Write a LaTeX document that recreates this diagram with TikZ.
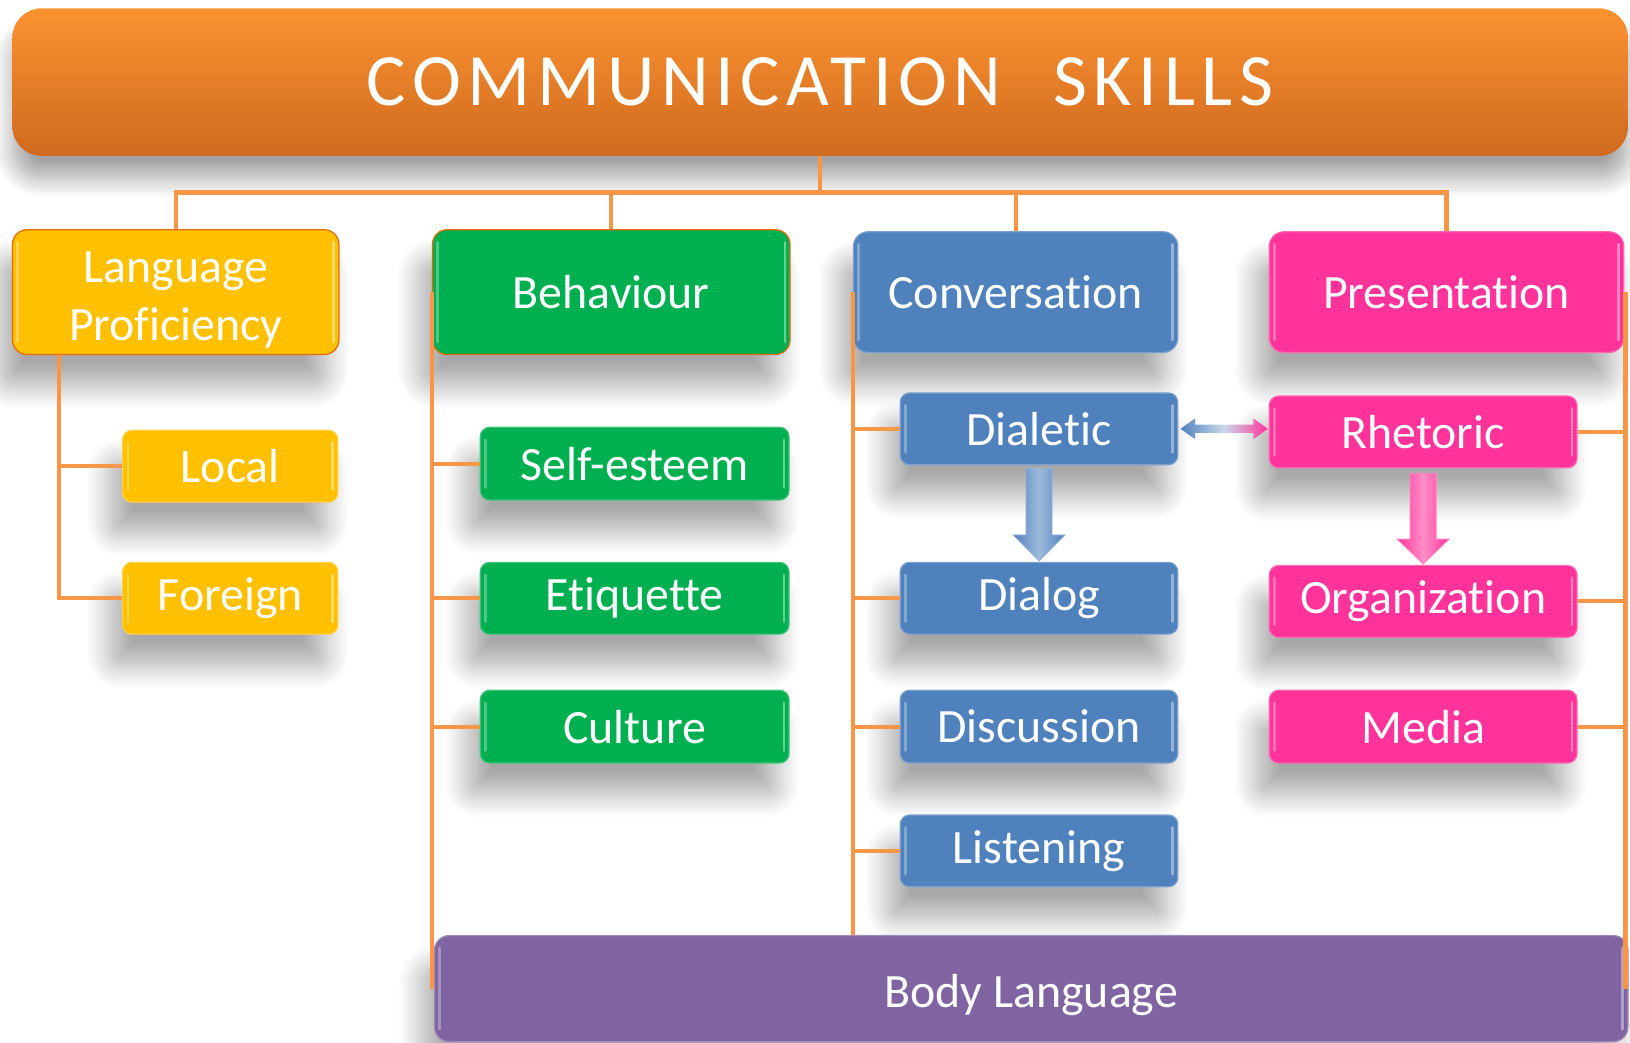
\documentclass[tikz,border=0pt]{standalone}
\usepackage{fontspec}
\setmainfont[Ligatures=NoCommon]{Carlito}
\newfontfamily\titlefont[LetterSpace=9,Ligatures=NoCommon]{Carlito}
\usetikzlibrary{calc,shadows.blur}
\definecolor{titleTop}{HTML}{FB9230}
\definecolor{titleBot}{HTML}{CF6A1F}
\definecolor{yelC}{HTML}{FFC000}
\definecolor{grnC}{HTML}{00B050}
\definecolor{bluC}{HTML}{4F81BD}
\definecolor{pnkC}{HTML}{FF3399}
\definecolor{purC}{HTML}{8064A2}
\definecolor{connC}{HTML}{F79646}
\definecolor{edgeC}{HTML}{E46C0A}
\begin{document}
\begin{tikzpicture}[x=1pt,y=-1pt,
  shad/.style={blur shadow={shadow xshift=-12pt,shadow yshift=-30pt,shadow blur radius=22pt,shadow blur steps=14,shadow opacity=34}},
  gloss/.style={path picture={
    \draw[white,opacity=0.4,line width=2.5pt,line cap=round]
      ([xshift=-5pt,yshift=-12pt]path picture bounding box.north east) -- ([xshift=-5pt,yshift=12pt]path picture bounding box.south east);
    \draw[white,opacity=0.3,line width=2.5pt,line cap=round]
      ([xshift=5pt,yshift=-12pt]path picture bounding box.north west) -- ([xshift=5pt,yshift=12pt]path picture bounding box.south west);}},
  box/.style={fill=#1,draw=#1!75!white,line width=1.2pt,rounded corners=9pt,text=white,
    font=\fontsize{46}{57}\selectfont,inner sep=0pt,align=center,shad,gloss},
  topbox/.style={box=#1,rounded corners=14pt},
  subbox/.style={minimum width=#1,minimum height=69pt},
  conn/.style={draw=connC,line width=4pt},
]
\useasboundingbox (0,0) rectangle (1568,1003);

% title
\node[top color=titleTop,bottom color=titleBot,rounded corners=28pt,minimum width=1554pt,minimum height=142pt,
  inner sep=0pt,text=white,blur shadow={shadow xshift=0pt,shadow yshift=-22pt,shadow blur radius=18pt,shadow blur steps=14,shadow opacity=36}]
  (title) at (789,79) {\titlefont\fontsize{71}{80}\selectfont COMMUNICATION\hspace{50pt}SKILLS};

% top level
\node[topbox=yelC,draw=edgeC,minimum width=314pt,minimum height=120pt] (lp) at (169,281) {\rule{0pt}{44pt}Language\\[-1pt]Proficiency};
\node[topbox=grnC,draw=edgeC,minimum width=344pt,minimum height=120pt] (beh) at (588,281) {Behaviour};
\node[topbox=bluC,minimum width=312pt,minimum height=116pt] (conv) at (977,281) {Conversation};
\node[topbox=pnkC,minimum width=341pt,minimum height=116pt] (pres) at (1391.5,281) {Presentation};

% language proficiency
\node[box=yelC,subbox=207pt] (local) at (221.5,448.5) {Local};
\node[box=yelC,subbox=207pt] (foreign) at (221.5,575.5) {Foreign};

% behaviour
\node[box=grnC,subbox=297pt,minimum height=70pt] (self) at (610.5,446) {Self-esteem};
\node[box=grnC,subbox=297pt] (etiq) at (610.5,575.5) {Etiquette};
\node[box=grnC,subbox=297pt,minimum height=70pt] (cult) at (610.5,699) {Culture};

% conversation
\node[box=bluC,subbox=267pt] (dialetic) at (999.5,412.5) {Dialetic};
\node[box=bluC,subbox=267pt] (dialog) at (999.5,575.5) {Dialog};
\node[box=bluC,subbox=267pt,minimum height=70pt] (disc) at (999.5,699) {Discussion};
\node[box=bluC,subbox=267pt] (listen) at (999.5,818.5) {Listening};

% presentation
\node[box=pnkC,subbox=296pt] (rhet) at (1369,415.5) {Rhetoric};
\node[box=pnkC,subbox=296pt] (org) at (1369,578.5) {Organization};
\node[box=pnkC,subbox=296pt,minimum height=70pt] (media) at (1369,699) {Media};

% body language
\node[topbox=purC,minimum width=1148pt,minimum height=102pt] (body) at (992,951) {\rule{0pt}{44pt}Body Language};

% connectors from title
\draw[conn] (title.south) -- ++(0,35) -| (lp.north);
\draw[conn] (title.south) -- ++(0,35) -| (beh.north);
\draw[conn] (title.south) -- ++(0,35) -| (conv.north);
\draw[conn] (title.south) -- ++(0,35) -| (pres.north);

% language proficiency branches
\draw[conn] ([xshift=45pt]lp.south west) |- (local.west);
\draw[conn] ([xshift=45pt]lp.south west) |- (foreign.west);

% behaviour branches
\draw[conn] (beh.west) -- (beh.west |- body.west);
\draw[conn] (beh.west) |- (self.west);
\draw[conn] (beh.west) |- (etiq.west);
\draw[conn] (beh.west) |- (cult.west);

% conversation branches
\draw[conn] (conv.west) -- (conv.west |- body.north);
\draw[conn] (conv.west) |- (dialetic.west);
\draw[conn] (conv.west) |- (dialog.west);
\draw[conn] (conv.west) |- (disc.west);
\draw[conn] (conv.west) |- (listen.west);

% presentation branches
\draw[conn] ([xshift=1pt]pres.east) -- ([xshift=1pt]pres.east |- body.east);
\draw[conn] (rhet.east) -- ([xshift=1pt]rhet.east -| pres.east);
\draw[conn] (org.east) -- ([xshift=1pt]org.east -| pres.east);
\draw[conn] (media.east) -- ([xshift=1pt]media.east -| pres.east);

% block arrows
\shade[left color=bluC,right color=bluC,middle color=bluC!55!white,draw=bluC!60!white,line width=0.8pt]
  ($(dialetic.south)+(-12.5,3)$) -- ++(25,0) -- ++(0,64) -- ++(12.5,0) -- ++(-25,25) -- ++(-25,-25) -- ++(12.5,0) -- cycle;
\shade[left color=pnkC,right color=pnkC,middle color=pnkC!55!white,draw=pnkC!60!white,line width=0.8pt]
  ($(rhet.south)+(-12.5,5)$) -- ++(25,0) -- ++(0,63) -- ++(12.5,0) -- ++(-25,24) -- ++(-25,-24) -- ++(12.5,0) -- cycle;

% double arrow
\shade[left color=bluC,right color=pnkC,middle color=bluC!30!white]
  ($(dialetic.east)+(2,0)$) -- ++(14,-10) -- ++(0,6) -- ++(56,0) -- ++(0,-6) -- ++(14,10)
  -- ++(-14,10) -- ++(0,-6) -- ++(-56,0) -- ++(0,6) -- cycle;
\end{tikzpicture}
\end{document}
